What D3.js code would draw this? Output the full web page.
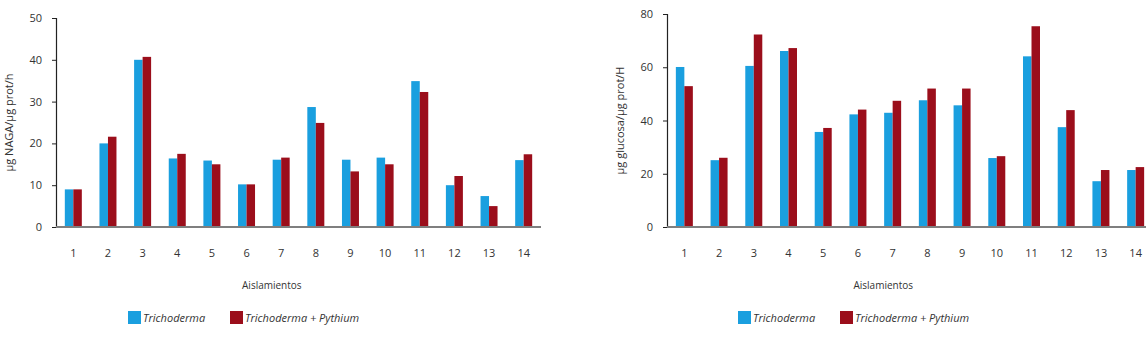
<!DOCTYPE html>
<html>
<head>
<meta charset="utf-8">
<script src="https://cdn.jsdelivr.net/npm/d3@7"></script>
<style>
  body { margin: 0; background: #fff; }
  svg text { font-family: "Open Sans", "Liberation Sans", sans-serif; fill: #333; }
</style>
</head>
<body>
<svg id="chart" width="1146" height="342"></svg>
<script>
// isolates on the x axis
var aislamientos = ["1","2","3","4","5","6","7","8","9","10","11","12","13","14"];
var series = ["Trichoderma", "Trichoderma + Pythium"];

// left panel: NAGA activity
var nagaTricho  = [9.0, 20.0, 40.0, 16.4, 15.9, 10.2, 16.1, 28.7, 16.1, 16.6, 34.9, 10.0, 7.4, 16.0];
var nagaPythium = [9.0, 21.6, 40.7, 17.5, 15.0, 10.2, 16.6, 24.9, 13.3, 15.0, 32.3, 12.2, 5.0, 17.4];
var nagaTicks = [0, 10, 20, 30, 40, 50];

// right panel: glucose activity
var glucTricho  = [60.1, 25.1, 60.5, 66.1, 35.7, 42.3, 42.9, 47.6, 45.7, 25.9, 64.1, 37.5, 17.2, 21.4];
var glucPythium = [52.9, 26.0, 72.3, 67.2, 37.2, 44.1, 47.4, 52.0, 52.0, 26.6, 75.4, 43.9, 21.4, 22.5];
var glucTicks = [0, 20, 40, 60, 80];

var colors = ["#1a9fdf", "#9b0e1b"];

function BarPanel() {
  var x = 0, width = 485, top = 18, bottom = 227;
  var ylabel = "", ticks = [], legendX = 128;

  function panel(svg, a, b) {
    var g = svg.append("g").attr("transform", "translate(" + x + ",0)");
    var xs = d3.scaleBand().domain(aislamientos).range([0, width]);
    var xi = d3.scaleBand().domain([0, 1]).range([0, 17]);
    var ys = d3.scaleLinear().domain([0, d3.max(ticks)]).range([bottom, top]);

    var rows = aislamientos.map(function(k, i) { return { k: k, v: [a[i], b[i]] }; });
    var grp = g.selectAll("g.pair").data(rows).enter().append("g").attr("class", "pair")
      .attr("transform", function(d) { return "translate(" + (xs(d.k) + xs.bandwidth() / 2 - 8.5) + ",0)"; });
    grp.selectAll("rect").data(function(d) { return d.v; }).enter().append("rect")
      .attr("x", function(d, i) { return xi(i); })
      .attr("width", xi.bandwidth())
      .attr("y", function(d) { return ys(d); })
      .attr("height", function(d) { return bottom - ys(d); })
      .attr("fill", function(d, i) { return colors[i]; });

    // y axis
    var ya = g.append("g").call(d3.axisLeft(ys).tickValues(ticks).tickSize(4).tickPadding(10));
    ya.select(".domain").attr("stroke", "#222").attr("stroke-width", 1.2);
    ya.selectAll(".tick line").attr("stroke", "#222");
    ya.selectAll("text").attr("font-size", 11).attr("fill", "#333");

    // x axis
    g.append("line").attr("x1", 0).attr("x2", width).attr("y1", bottom).attr("y2", bottom)
      .attr("stroke", "#7f7f7f").attr("stroke-width", 2);
    g.selectAll("text.xl").data(aislamientos).enter().append("text").attr("class", "xl")
      .attr("x", function(d) { return xs(d) + xs.bandwidth() / 2; }).attr("y", 257)
      .attr("text-anchor", "middle").attr("font-size", 11).text(function(d) { return d; });

    g.append("text").attr("x", width * 0.445).attr("y", 289).attr("text-anchor", "middle")
      .attr("font-size", 10).text("Aislamientos");
    g.append("text").attr("transform", "translate(" + (-43) + "," + ((top + bottom) / 2) + ") rotate(-90)")
      .attr("text-anchor", "middle").attr("font-size", 11).text(ylabel);

    // legend
    var lg = g.selectAll("g.leg").data(series).enter().append("g").attr("class", "leg")
      .attr("transform", function(d, i) { return "translate(" + (legendX + i * 102) + ",311)"; });
    lg.append("rect").attr("width", 13).attr("height", 13).attr("fill", function(d, i) { return colors[i]; });
    lg.append("text").attr("x", 15).attr("y", 10.5).attr("font-size", 11).attr("font-style", "italic")
      .text(function(d) { return d; });
  }

  panel.x = function(_) { if (!arguments.length) return x; x = _; return panel; };
  panel.width = function(_) { if (!arguments.length) return width; width = _; return panel; };
  panel.top = function(_) { if (!arguments.length) return top; top = _; return panel; };
  panel.ylabel = function(_) { if (!arguments.length) return ylabel; ylabel = _; return panel; };
  panel.ticks = function(_) { if (!arguments.length) return ticks; ticks = _; return panel; };
  panel.legendX = function(_) { if (!arguments.length) return legendX; legendX = _; return panel; };
  return panel;
}

var svg = d3.select("#chart");
BarPanel().x(56).width(485).top(18).ylabel("µg NAGA/µg prot/h").ticks(nagaTicks).legendX(72)(svg, nagaTricho, nagaPythium);
BarPanel().x(667).width(486).top(14).ylabel("µg glucosa/µg prot/H").ticks(glucTicks).legendX(71)(svg, glucTricho, glucPythium);
</script>
</body>
</html>
